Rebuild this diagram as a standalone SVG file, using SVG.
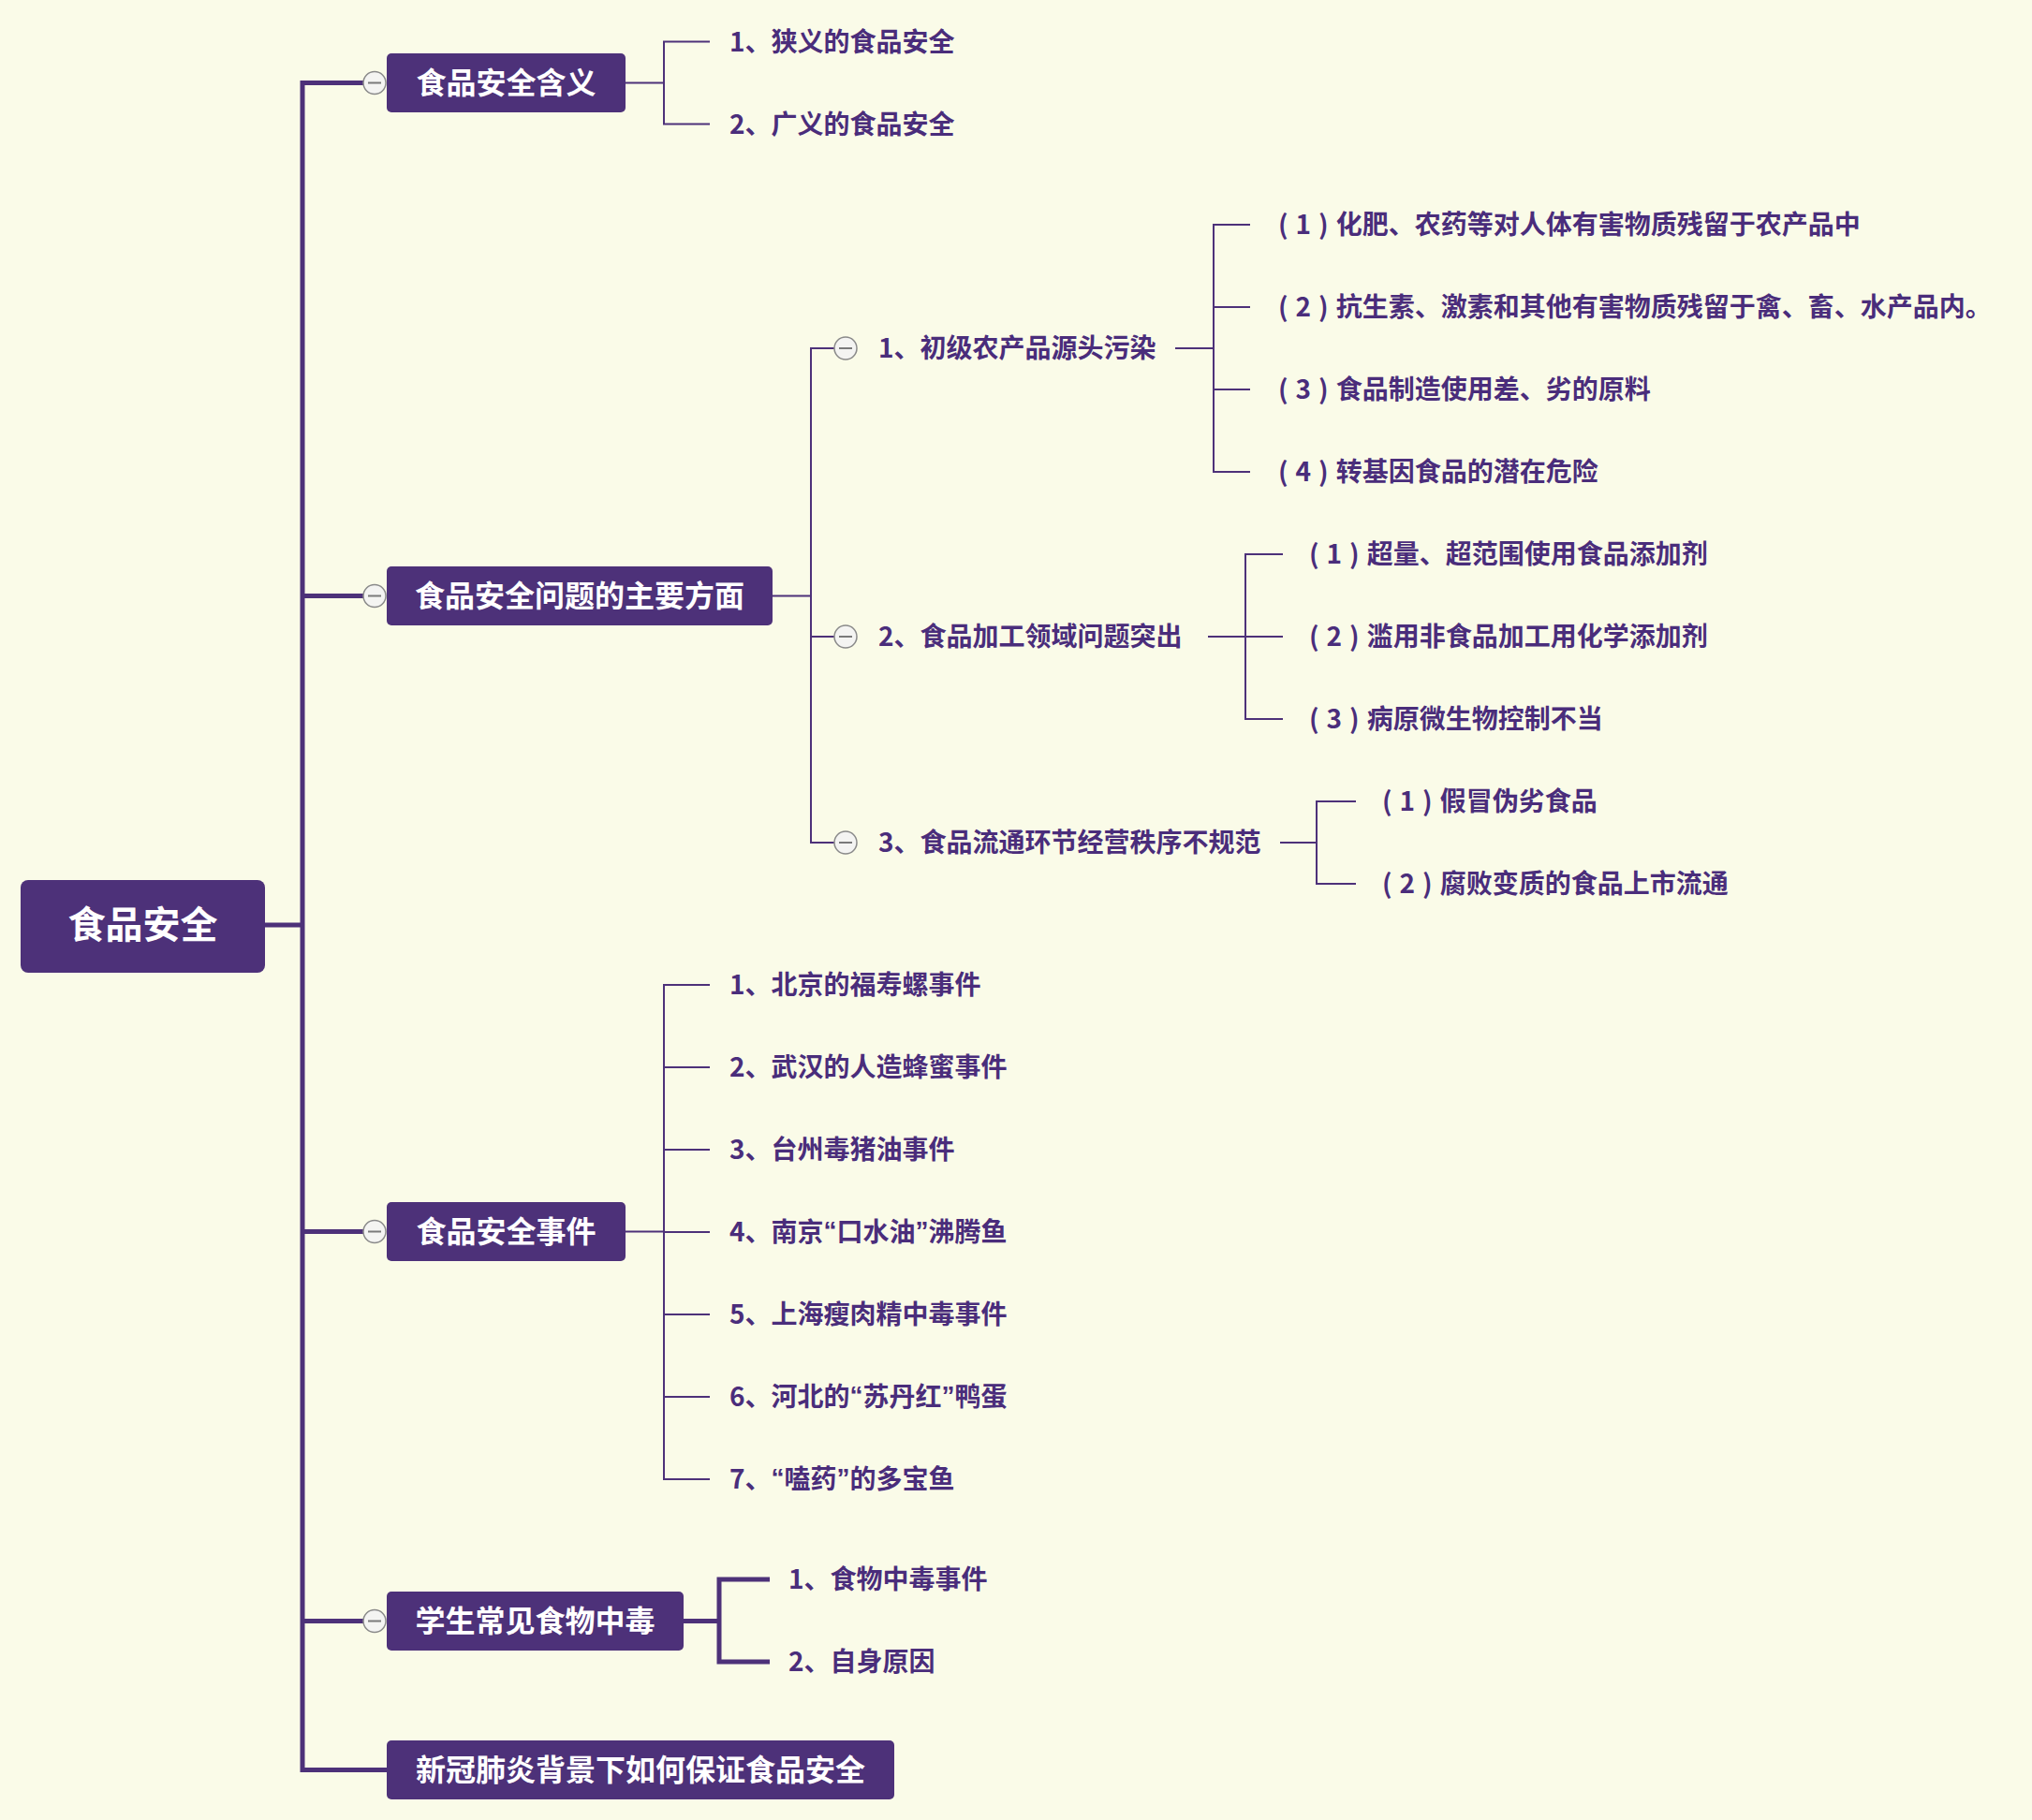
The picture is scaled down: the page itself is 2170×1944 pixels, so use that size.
<svg xmlns="http://www.w3.org/2000/svg" width="2170" height="1944" viewBox="0 0 2170 1944">
<style>
.bg{fill:#fafbe8}
.box{fill:#4d3179}
.t0{font-family:"Noto Sans CJK SC","Microsoft YaHei",sans-serif;font-weight:700;font-size:40px;fill:#ffffff;text-anchor:middle;dominant-baseline:central}
.t1{font-family:"Noto Sans CJK SC","Microsoft YaHei",sans-serif;font-weight:700;font-size:32px;fill:#ffffff;text-anchor:middle;dominant-baseline:central}
.t2{font-family:"Noto Sans CJK SC","Microsoft YaHei",sans-serif;font-weight:700;font-size:28px;fill:#4a2d7b;dominant-baseline:central}
.p{letter-spacing:8px}
.q{font-family:"Liberation Sans",sans-serif}
.thick{fill:none;stroke:#4d3179;stroke-width:5}
.thin{fill:none;stroke:#4d3179;stroke-width:2}
.cc{fill:#f4f4f2;stroke:#8a8a8a;stroke-width:1.5}
.cm{stroke:#7a7a7a;stroke-width:2}
</style>
<defs>
<g id="collapse"><circle class="cc" cx="0" cy="0" r="12"/><line class="cm" x1="-7" y1="0" x2="7" y2="0"/></g>
</defs>
<rect class="bg" x="0" y="0" width="2170" height="1944"/>
<g id="connectors">
<path class="thick" d="M283,988 H323"/>
<path class="thick" d="M388,88.5 H323 V1890.5 H413"/>
<path class="thick" d="M323,636.5 H388 M323,1315.5 H388 M323,1731.5 H388"/>
<path class="thin" d="M668,88.5 H709 M758,44.5 H709 V132.5 H758"/>
<path class="thin" d="M825,636.5 H866 M891,372 H866 V900 H891 M866,680 H891"/>
<path class="thin" d="M1255,372 H1296 M1335,240 H1296 V504 H1335 M1296,328 H1335 M1296,416 H1335"/>
<path class="thin" d="M1290,680 H1330 M1370,592 H1330 V768 H1370 M1330,680 H1370"/>
<path class="thin" d="M1367,900 H1406 M1448,856 H1406 V944 H1448"/>
<path class="thin" d="M668,1315.5 H709 M758,1052 H709 V1580 H758 M709,1140 H758 M709,1228 H758 M709,1316 H758 M709,1404 H758 M709,1492 H758"/>
<path class="thick" d="M730,1731.5 H768 M822,1687 H768 V1775 H822"/>
</g>
<g id="root"><rect class="box" x="22" y="940" width="261" height="99" rx="8"/><text class="t0" x="152.5" y="985">食品安全</text></g>
<g id="n1"><rect class="box" x="413" y="57" width="255" height="63" rx="5"/><text class="t1" x="540.5" y="86">食品安全含义</text><use href="#collapse" x="400" y="88.5"/></g>
<g id="n1-1"><text class="t2" x="779" y="42.5">1、狭义的食品安全</text></g>
<g id="n1-2"><text class="t2" x="779" y="130.5">2、广义的食品安全</text></g>
<g id="n2"><rect class="box" x="413" y="605" width="412" height="63" rx="5"/><text class="t1" x="619" y="634">食品安全问题的主要方面</text><use href="#collapse" x="400" y="636.5"/></g>
<g id="n2-1"><use href="#collapse" x="903" y="372"/><text class="t2" x="938" y="370">1、初级农产品源头污染</text></g>
<g id="n2-1-1"><text class="t2" x="1365" y="238"><tspan class="p">(1)</tspan>化肥、农药等对人体有害物质残留于农产品中</text></g>
<g id="n2-1-2"><text class="t2" x="1365" y="326"><tspan class="p">(2)</tspan>抗生素、激素和其他有害物质残留于禽、畜、水产品内。</text></g>
<g id="n2-1-3"><text class="t2" x="1365" y="414"><tspan class="p">(3)</tspan>食品制造使用差、劣的原料</text></g>
<g id="n2-1-4"><text class="t2" x="1365" y="502"><tspan class="p">(4)</tspan>转基因食品的潜在危险</text></g>
<g id="n2-2"><use href="#collapse" x="903" y="680"/><text class="t2" x="938" y="678">2、食品加工领域问题突出</text></g>
<g id="n2-2-1"><text class="t2" x="1398" y="590"><tspan class="p">(1)</tspan>超量、超范围使用食品添加剂</text></g>
<g id="n2-2-2"><text class="t2" x="1398" y="678"><tspan class="p">(2)</tspan>滥用非食品加工用化学添加剂</text></g>
<g id="n2-2-3"><text class="t2" x="1398" y="766"><tspan class="p">(3)</tspan>病原微生物控制不当</text></g>
<g id="n2-3"><use href="#collapse" x="903" y="900"/><text class="t2" x="938" y="898">3、食品流通环节经营秩序不规范</text></g>
<g id="n2-3-1"><text class="t2" x="1476" y="854"><tspan class="p">(1)</tspan>假冒伪劣食品</text></g>
<g id="n2-3-2"><text class="t2" x="1476" y="942"><tspan class="p">(2)</tspan>腐败变质的食品上市流通</text></g>
<g id="n3"><rect class="box" x="413" y="1284" width="255" height="63" rx="5"/><text class="t1" x="540.5" y="1313">食品安全事件</text><use href="#collapse" x="400" y="1315.5"/></g>
<g id="n3-1"><text class="t2" x="779" y="1050">1、北京的福寿螺事件</text></g>
<g id="n3-2"><text class="t2" x="779" y="1138">2、武汉的人造蜂蜜事件</text></g>
<g id="n3-3"><text class="t2" x="779" y="1226">3、台州毒猪油事件</text></g>
<g id="n3-4"><text class="t2" x="779" y="1314">4、南京<tspan class="q">“</tspan>口水油<tspan class="q">”</tspan>沸腾鱼</text></g>
<g id="n3-5"><text class="t2" x="779" y="1402">5、上海瘦肉精中毒事件</text></g>
<g id="n3-6"><text class="t2" x="779" y="1490">6、河北的<tspan class="q">“</tspan>苏丹红<tspan class="q">”</tspan>鸭蛋</text></g>
<g id="n3-7"><text class="t2" x="779" y="1578">7、<tspan class="q">“</tspan>嗑药<tspan class="q">”</tspan>的多宝鱼</text></g>
<g id="n4"><rect class="box" x="413" y="1700" width="317" height="63" rx="5"/><text class="t1" x="571.5" y="1729">学生常见食物中毒</text><use href="#collapse" x="400" y="1731.5"/></g>
<g id="n4-1"><text class="t2" x="842" y="1685">1、食物中毒事件</text></g>
<g id="n4-2"><text class="t2" x="842" y="1773">2、自身原因</text></g>
<g id="n5"><rect class="box" x="413" y="1859" width="542" height="63" rx="5"/><text class="t1" x="684" y="1888">新冠肺炎背景下如何保证食品安全</text></g>
</svg>
